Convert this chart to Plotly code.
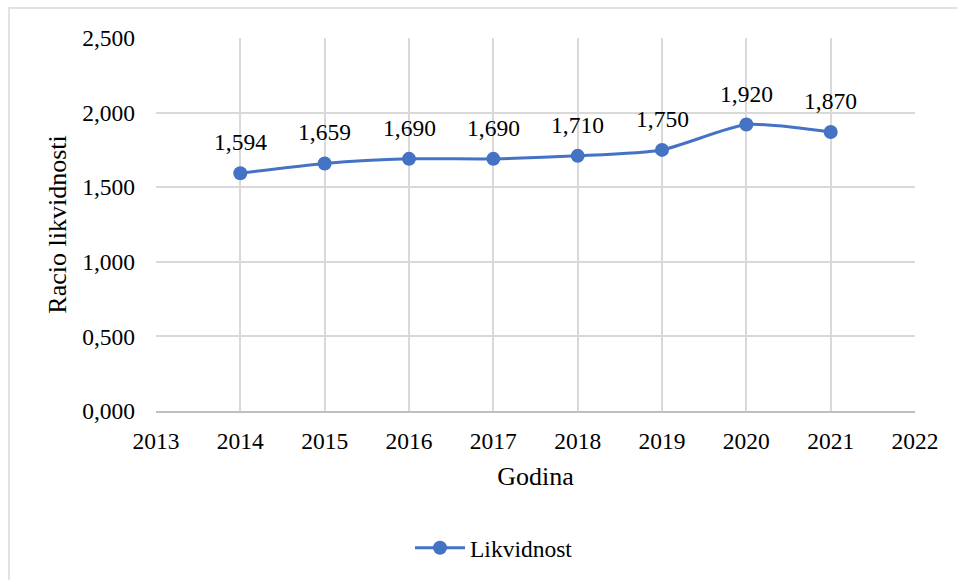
import plotly.graph_objects as go

years = [2014, 2015, 2016, 2017, 2018, 2019, 2020, 2021]
likvidnost = [1.594, 1.659, 1.690, 1.690, 1.710, 1.750, 1.920, 1.870]
series_name = "Likvidnost"
x_title = "Godina"
y_title = "Racio likvidnosti"

FONT = "Liberation Serif, Times New Roman, serif"
BLUE = "#4472C4"
GRID = "#D9D9D9"
TICK_SIZE = 23.5
TITLE_SIZE = 26

fig = go.Figure()
fig.add_trace(go.Scatter(
    x=years, y=likvidnost, name=series_name,
    mode="lines+markers",
    line=dict(color=BLUE, width=3, shape="spline", smoothing=0.6),
    marker=dict(color=BLUE, size=14),
    cliponaxis=False,
))

for xv, yv in zip(years, likvidnost):
    fig.add_annotation(x=xv, y=yv, text=f"{yv:.3f}".replace(".", ","),
                       showarrow=False, yshift=31, xanchor="center", yanchor="middle",
                       font=dict(family=FONT, size=TICK_SIZE, color="#000000"))

W, H = 957, 580
L, R, T, B = 156, 42, 38, 168
pw, ph = W - L - R, H - T - B

def px(x):
    return (x - L) / pw

def py(y):
    return (H - B - y) / ph

fig.add_shape(type="rect", xref="paper", yref="paper",
              x0=px(9), x1=px(970), y0=py(8), y1=py(600),
              line=dict(color="#D9D9D9", width=1.5), fillcolor="rgba(0,0,0,0)", layer="below")

fig.update_layout(
    width=W, height=H,
    margin=dict(l=L, r=R, t=T, b=B),
    paper_bgcolor="white", plot_bgcolor="white",
    separators=",.",
    font=dict(family=FONT, size=TICK_SIZE, color="#000000"),
    showlegend=True,
    legend=dict(orientation="h", x=px(410), xanchor="left", y=py(548), yanchor="middle",
                font=dict(family=FONT, size=TICK_SIZE), itemwidth=50),
    xaxis=dict(range=[2013, 2022], dtick=1, tick0=2013, showgrid=True, gridcolor=GRID, gridwidth=1.5,
               zeroline=False, showline=True, linecolor="#BFBFBF", linewidth=1.5,
               ticks="", ticklabelstandoff=8, tickfont=dict(family=FONT, size=TICK_SIZE),
               title=dict(text=x_title, font=dict(family=FONT, size=TITLE_SIZE), standoff=14)),
    yaxis=dict(range=[0, 2.5], dtick=0.5, tickformat=".3f", showgrid=True, gridcolor=GRID, gridwidth=1.5,
               zeroline=False, showline=False, ticks="", ticklabelstandoff=20,
               tickfont=dict(family=FONT, size=TICK_SIZE),
               title=dict(text=y_title, font=dict(family=FONT, size=TITLE_SIZE), standoff=8)),
)

fig.write_html("out.html", config={"displayModeBar": False},
               post_script="document.body.style.margin='0';document.body.style.padding='0';")
